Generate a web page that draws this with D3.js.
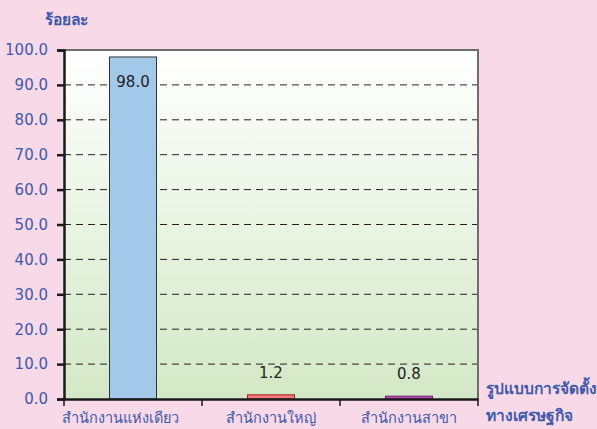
<html>
  <head>
    <meta charset="UTF-8" />
    <script src="https://cdnjs.cloudflare.com/ajax/libs/d3/7.8.5/d3.min.js"></script>
    <style>
      body { margin: 0; background: #f8d9e8; }
      text { font-family: Tahoma, "DejaVu Sans", sans-serif; }
    </style>
  </head>
  <body>
    <svg id="chart" width="597" height="429"></svg>
    <script>
      const categories = ["สำนักงานแห่งเดียว", "สำนักงานใหญ่", "สำนักงานสาขา"];
      const values = [98.0, 1.2, 0.8];
      const barColors = ["#a3c9ea", "#f27a7a", "#c04ab8"];
      const barStrokes = ["#333333", "#a02020", "#6a1a6a"];
      const labelShift = [-13, 0, 0];
      const yTicks = [0, 10, 20, 30, 40, 50, 60, 70, 80, 90, 100];

      const svg = d3.select("#chart");
      const plotL = 64, plotR = 478, plotT = 50, plotB = 399;
      const blue = "#3f5aa8";

      const x = d3.scaleBand().domain(categories).range([plotL, plotR]).paddingInner(0).paddingOuter(0);
      const y = d3.scaleLinear().domain([0, 100]).range([plotB, plotT]);

      const defs = svg.append("defs");
      const grad = defs.append("linearGradient")
        .attr("id", "bg").attr("x1", 0).attr("x2", 0).attr("y1", 0).attr("y2", 1);
      grad.append("stop").attr("offset", "0%").attr("stop-color", "#ffffff");
      grad.append("stop").attr("offset", "100%").attr("stop-color", "#d3e8c6");

      svg.append("rect")
        .attr("x", plotL).attr("y", plotT)
        .attr("width", plotR - plotL).attr("height", plotB - plotT)
        .attr("fill", "url(#bg)");

      // gridlines
      svg.append("g").selectAll("line")
        .data(yTicks.filter(d => d > 0 && d < 100))
        .enter().append("line")
        .attr("x1", plotL).attr("x2", plotR)
        .attr("y1", d => y(d)).attr("y2", d => y(d))
        .attr("stroke", "#222").attr("stroke-width", 1)
        .attr("stroke-dasharray", "7,5");

      // frame top/right
      svg.append("path")
        .attr("d", `M${plotL},${plotT}H${plotR}V${plotB}`)
        .attr("fill", "none").attr("stroke", "#6e6e6e").attr("stroke-width", 2);

      // bars
      svg.append("g").selectAll("rect")
        .data(values)
        .enter().append("rect")
        .attr("x", (d, i) => x(categories[i]) + x.bandwidth() / 2 - 23.5)
        .attr("width", 47)
        .attr("y", d => y(d))
        .attr("height", d => plotB - y(d))
        .attr("fill", (d, i) => barColors[i])
        .attr("stroke", (d, i) => barStrokes[i])
        .attr("stroke-width", 1);

      // value labels
      svg.append("g").selectAll("text")
        .data(values)
        .enter().append("text")
        .attr("x", (d, i) => x(categories[i]) + x.bandwidth() / 2)
        .attr("y", d => d > 50 ? y(d) + 30 : y(d) - 17)
        .attr("text-anchor", "middle")
        .attr("font-size", 15)
        .attr("fill", "#222")
        .text(d => d.toFixed(1));

      // y axis
      const yAxis = svg.append("g")
        .attr("transform", `translate(${plotL},0)`)
        .call(d3.axisLeft(y).tickValues(yTicks).tickFormat(d => d.toFixed(1)).tickSize(7).tickPadding(9));
      yAxis.select(".domain").attr("stroke", "#1a1a1a").attr("stroke-width", 2.5);
      yAxis.selectAll(".tick line").attr("stroke", "#1a1a1a").attr("stroke-width", 2.5);
      yAxis.selectAll(".tick text")
        .attr("fill", blue).attr("font-size", 15)
        .style("font-family", "Tahoma, 'DejaVu Sans', sans-serif");

      // x axis
      const xAxis = svg.append("g")
        .attr("transform", `translate(0,${plotB})`)
        .call(d3.axisBottom(x).tickSize(0).tickPadding(14));
      xAxis.select(".domain").attr("stroke", "#1a1a1a").attr("stroke-width", 2.5);
      xAxis.selectAll(".tick text")
        .attr("fill", blue).attr("font-size", 14.5)
        .attr("dx", (d, i) => labelShift[i])
        .style("font-family", "Tahoma, 'DejaVu Sans', sans-serif");
      svg.append("g").selectAll("line")
        .data(d3.range(categories.length + 1))
        .enter().append("line")
        .attr("x1", i => plotL + i * x.bandwidth()).attr("x2", i => plotL + i * x.bandwidth())
        .attr("y1", plotB).attr("y2", plotB + 7)
        .attr("stroke", "#1a1a1a").attr("stroke-width", 1.5);

      // axis titles
      svg.append("text")
        .attr("x", 45).attr("y", 25)
        .attr("fill", blue).attr("font-size", 15.5).attr("font-weight", "bold")
        .text("ร้อยละ");
      svg.append("text")
        .attr("x", 486).attr("y", 394)
        .attr("fill", blue).attr("font-size", 15.5).attr("font-weight", "bold")
        .text("รูปแบบการจัดตั้ง");
      svg.append("text")
        .attr("x", 486).attr("y", 421)
        .attr("fill", blue).attr("font-size", 15.5).attr("font-weight", "bold")
        .text("ทางเศรษฐกิจ");
    </script>
  </body>
</html>
